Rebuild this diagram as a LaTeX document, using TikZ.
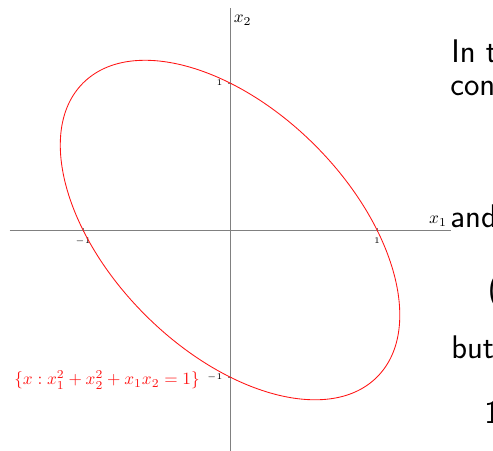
\documentclass[tikz,border=0pt]{standalone}
\usepackage{amsmath}
\usetikzlibrary{positioning}
\definecolor{axisGray}{RGB}{128,128,128}
\definecolor{curveRed}{RGB}{255,20,20}
\tikzset{
  axisline/.style={draw=axisGray, line width=0.4pt},
  tickmark/.style={draw=axisGray, line width=0.3pt},
  ticklabel/.style={font=\fontsize{3.5}{4}\selectfont, inner sep=3pt},
  axislabel/.style={font=\normalsize, inner sep=2pt},
  curve/.style={draw=curveRed, line width=0.5pt},
  setlabel/.style={text=curveRed, font=\normalsize},
  slidetext/.style={font=\sffamily\fontsize{19}{22}\selectfont, anchor=base west, inner sep=0pt}
}

\begin{document}
\begin{tikzpicture}[scale=3]
  \useasboundingbox (-1.565,-1.497) rectangle (1.789,1.565);
  \clip (-1.565,-1.497) rectangle (1.789,1.565);
  \coordinate (xmin) at (-1.5,0);
  \coordinate (xmax) at (1.5,0);
  \coordinate (ymin) at (0,-1.53);
  \coordinate (ymax) at (0,1.51);
  \draw[axisline] (xmin) -- (xmax) node[axislabel, above left] (xlab) {$x_1$};
  \draw[axisline] (ymin) -- (ymax) node[axislabel, below right, yshift=-2pt] (ylab) {$x_2$};
  \foreach \t/\name in {1/xone, -1/xmone} {
    \draw[tickmark] (\t,0.015) -- (\t,-0.015) node[ticklabel, below] (\name) {$\t$};
  }
  \foreach \t/\name in {1/yone, -1/ymone} {
    \draw[tickmark] (0.015,\t) -- (-0.015,\t) node[ticklabel, left] (\name) {$\t$};
  }
  \draw[curve, rotate=-45] (0,0) ellipse ({sqrt(2)} and {sqrt(2/3)});
  \node[setlabel] (set) at (-0.837,-1.02) {$\{x : x_1^2 + x_2^2 + x_1x_2 = 1\}$};
  \node[slidetext] (line1) at (1.503,1.143) {In t};
  \node[slidetext] (line2) at (1.497,0.912) {cons};
  \node[slidetext] (line3) at (1.497,0.017) {and};
  \node[slidetext] (line4) at (1.752,-0.47) {(};
  \node[slidetext] (line5) at (1.503,-0.871) {but};
  \node[slidetext] (line6) at (1.728,-1.313) {1};
\end{tikzpicture}
\end{document}
